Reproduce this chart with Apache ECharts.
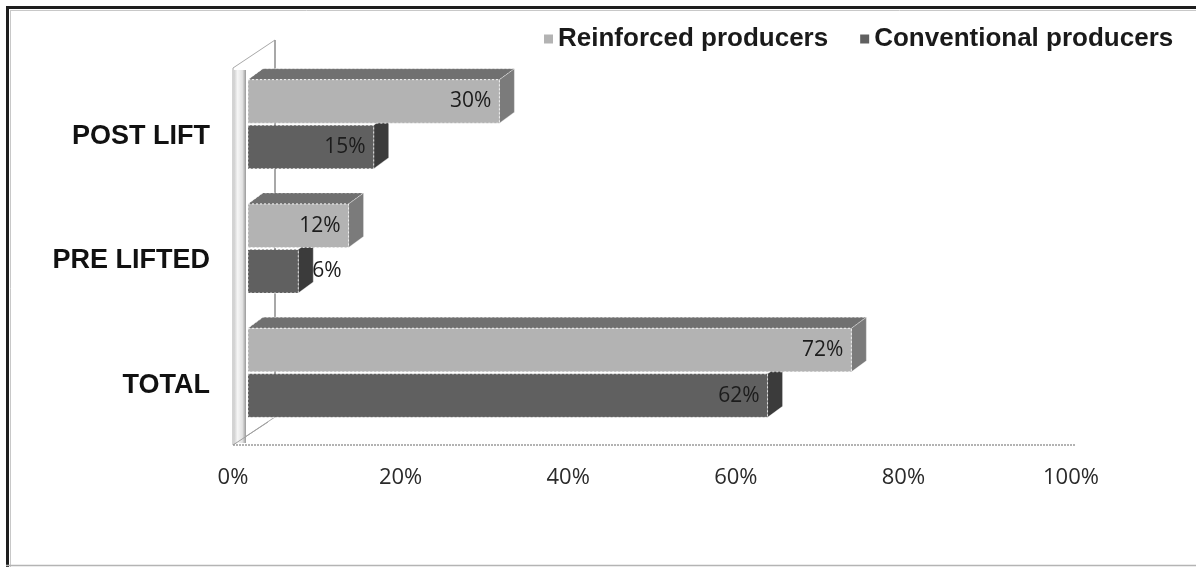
<!DOCTYPE html>
<html>
<head>
<meta charset="utf-8">
<script src="https://cdn.jsdelivr.net/npm/echarts@6/dist/echarts.min.js"></script>
<style>
  html, body { margin: 0; padding: 0; background: #ffffff; }
  #chart { width: 1196px; height: 567px; }
</style>
</head>
<body>
<div id="chart"></div>
<script>
// Share of producers by lift stage (%)
const categories = ['TOTAL', 'PRE LIFTED', 'POST LIFT'];
const reinforced = [72, 12, 30];
const conventional = [62, 6, 15];
const xTicks = [0, 20, 40, 60, 80, 100];

const seriesNames = ['Reinforced producers', 'Conventional producers'];

// 3D look: front face shifted right by the wall thickness, depth goes up-right
const WALL = 15;
const DEPTH_X = 15;
const DEPTH_Y = -11;

const faceColors = {
  reinforced: { front: '#b3b3b3', top: '#707070', side: '#7b7b7b' },
  conventional: { front: '#606060', top: '#4a4a4a', side: '#3b3b3b' }
};

function barRenderer(kind) {
  return function (params, api) {
    const v = api.value(0);
    const cat = api.value(1);
    const p0 = api.coord([0, cat]);
    const p1 = api.coord([v, cat]);
    const band = api.size([0, 1])[1];
    const h = band * 0.35;
    const c = p0[1];
    const x0 = p0[0] + WALL;
    const x1 = p1[0] + WALL;
    let y0, y1;
    if (kind === 'reinforced') { y0 = c - 1 - h; y1 = c - 1; }
    else { y0 = c + 1; y1 = c + 1 + h; }
    const col = faceColors[kind];
    const children = [];
    if (kind === 'reinforced') {
      children.push({
        type: 'polygon',
        shape: { points: [[x0, y0], [x1, y0], [x1 + DEPTH_X, y0 + DEPTH_Y], [x0 + DEPTH_X, y0 + DEPTH_Y]] },
        style: { fill: col.top, stroke: 'rgba(255,255,255,0.55)', lineWidth: 1, lineDash: [2, 2] }
      });
    }
    children.push({
      type: 'polygon',
      shape: { points: [[x1, y0], [x1 + DEPTH_X, y0 + DEPTH_Y], [x1 + DEPTH_X, y1 + DEPTH_Y], [x1, y1]] },
      style: { fill: col.side, stroke: 'rgba(255,255,255,0.35)', lineWidth: 1 }
    });
    children.push({
      type: 'rect',
      shape: { x: x0, y: y0, width: x1 - x0, height: y1 - y0 },
      style: { fill: col.front, stroke: 'rgba(255,255,255,0.75)', lineWidth: 1, lineDash: [2, 2] }
    });
    const label = v + '%';
    const inside = v >= 10;
    children.push({
      type: 'text',
      style: {
        text: label,
        x: inside ? x1 - 8 : x1 + DEPTH_X - 1,
        y: (y0 + y1) / 2,
        align: inside ? 'right' : 'left',
        verticalAlign: 'middle',
        fill: '#1c1c1c',
        font: 'normal 21px "Open Sans"'
      }
    });
    return { type: 'group', children: children };
  };
}

// Side wall and floor of the 3D plot box
function frameRenderer(params, api) {
  const cs = params.coordSys;
  const left = cs.x, top = cs.y, bottom = cs.y + cs.height, right = cs.x + cs.width;
  const bx = 42, by = -28;
  const floorY = bottom + 10;
  return {
    type: 'group',
    children: [
      {
        type: 'polygon',
        shape: { points: [[left, top + 6], [left + bx, top + 6 + by], [left + bx, floorY + by], [left, floorY]] },
        style: { fill: '#ffffff', stroke: '#a8a8a8', lineWidth: 1 }
      },
      {
        type: 'rect',
        shape: { x: left + 1, y: top + 8, width: 12, height: floorY - top - 10 },
        style: {
          fill: new echarts.graphic.LinearGradient(0, 0, 1, 0, [
            { offset: 0, color: '#cfcfcf' },
            { offset: 0.3, color: '#f6f6f6' },
            { offset: 0.7, color: '#e2e2e2' },
            { offset: 1, color: '#9a9a9a' }
          ])
        }
      },
      {
        type: 'line',
        shape: { x1: left + bx, y1: top + 6 + by, x2: left + bx, y2: floorY + by },
        style: { stroke: '#9a9a9a', lineWidth: 1.5 }
      },
      {
        type: 'line',
        shape: { x1: left, y1: floorY, x2: left + bx - 7, y2: floorY + by + 5 },
        style: { stroke: '#a0a0a0', lineWidth: 1 }
      },
      {
        type: 'line',
        shape: { x1: left, y1: floorY, x2: right + 4, y2: floorY },
        style: { stroke: '#9a9a9a', lineWidth: 1.5, lineDash: [2, 1] }
      }
    ]
  };
}

const chart = echarts.init(document.getElementById('chart'), null, { renderer: 'canvas' });

chart.setOption({
  backgroundColor: '#ffffff',
  animation: false,
  grid: { left: 233, right: 125, top: 62, bottom: 132, containLabel: false },
  legend: {
    data: seriesNames,
    left: 539,
    top: 21,
    itemWidth: 9,
    itemHeight: 9,
    itemGap: 32,
    icon: 'rect',
    textStyle: { fontFamily: 'Liberation Sans', fontWeight: 'bold', fontSize: 26, color: '#1a1a1a' }
  },
  xAxis: {
    type: 'value',
    min: xTicks[0],
    max: xTicks[xTicks.length - 1],
    interval: xTicks[1] - xTicks[0],
    axisLine: { show: false },
    axisTick: { show: false },
    splitLine: { show: false },
    axisLabel: {
      margin: 32,
      formatter: '{value}%',
      fontFamily: 'Open Sans',
      fontSize: 22,
      color: '#2a2a2a'
    }
  },
  yAxis: {
    type: 'category',
    data: categories,
    axisLine: { show: false },
    axisTick: { show: false },
    splitLine: { show: false },
    axisLabel: {
      margin: 23,
      verticalAlign: 'top',
      lineHeight: 25,
      fontFamily: 'Liberation Sans',
      fontWeight: 'bold',
      fontSize: 27,
      color: '#111111'
    }
  },
  graphic: [
    { type: 'line', shape: { x1: 7.5, y1: 6, x2: 7.5, y2: 567 }, style: { stroke: '#1e1e1e', lineWidth: 3 }, silent: true },
    { type: 'line', shape: { x1: 6, y1: 7.5, x2: 1196, y2: 7.5 }, style: { stroke: '#1e1e1e', lineWidth: 3 }, silent: true },
    { type: 'line', shape: { x1: 10, y1: 10.5, x2: 1196, y2: 10.5 }, style: { stroke: '#c8c8c8', lineWidth: 1 }, silent: true },
    { type: 'line', shape: { x1: 10.5, y1: 10, x2: 10.5, y2: 567 }, style: { stroke: '#c8c8c8', lineWidth: 1 }, silent: true },
    { type: 'line', shape: { x1: 6, y1: 565.5, x2: 1196, y2: 565.5 }, style: { stroke: '#b4b4b4', lineWidth: 1.5 }, silent: true }
  ],
  series: [
    {
      type: 'custom',
      name: 'frame',
      silent: true,
      z: 1,
      clip: false,
      renderItem: frameRenderer,
      data: [[0, 0]],
      encode: { x: 0, y: 1 }
    },
    {
      type: 'custom',
      name: seriesNames[0],
      z: 4,
      clip: false,
      itemStyle: { color: faceColors.reinforced.front },
      renderItem: barRenderer('reinforced'),
      data: reinforced.map((v, i) => [v, i]),
      encode: { x: 0, y: 1 }
    },
    {
      type: 'custom',
      name: seriesNames[1],
      z: 3,
      clip: false,
      itemStyle: { color: faceColors.conventional.front },
      renderItem: barRenderer('conventional'),
      data: conventional.map((v, i) => [v, i]),
      encode: { x: 0, y: 1 }
    }
  ]
});
</script>
</body>
</html>
